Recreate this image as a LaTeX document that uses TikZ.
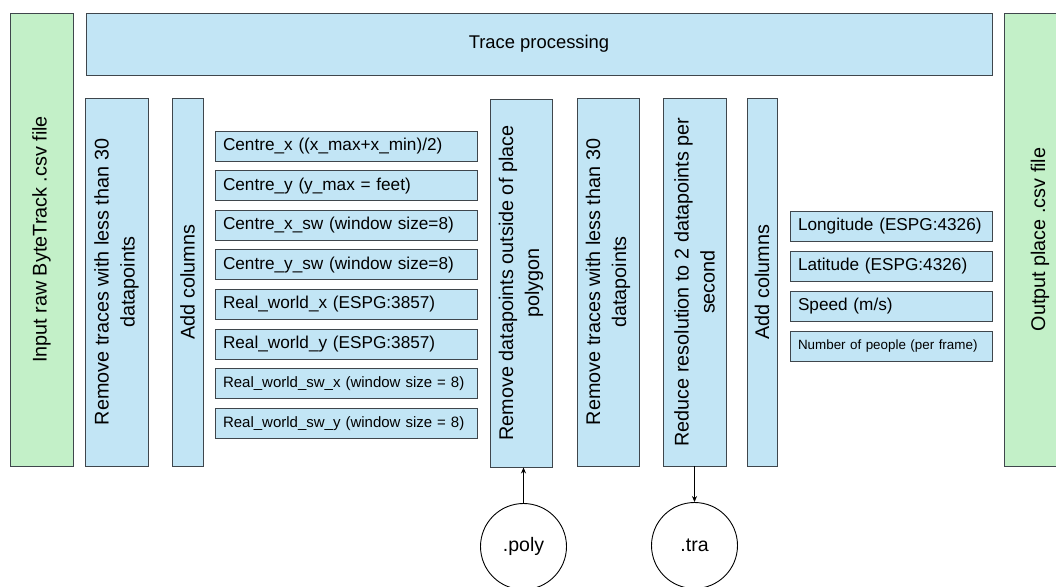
\documentclass[tikz,border=0pt]{standalone}
\usepackage{fontspec}
\setmainfont{Liberation Sans}
\usetikzlibrary{arrows.meta}

\definecolor{procblue}{HTML}{C2E5F5}
\definecolor{iogreen}{HTML}{C3F0C8}
\definecolor{edgegray}{HTML}{3F464C}

\tikzstyle{element}=[rectangle, draw=edgegray, line width=0.9pt,
                     fill=procblue, inner sep=0pt,
                     font=\fontsize{17.2}{21}\selectfont]
\tikzstyle{stage}=[element, rotate=90, align=center, minimum width=368,
                   font=\fontsize{19.8}{26}\selectfont]
\tikzstyle{io}=[stage, fill=iogreen, minimum width=453]
\tikzstyle{field}=[element, align=left, inner xsep=8, minimum height=30]
\tikzstyle{ext}=[circle, draw, line width=0.9pt, minimum size=86,
                 font=\fontsize{19.5}{24}\selectfont]
\tikzstyle{link}=[-{Stealth[length=6pt,width=5pt]}, line width=0.9pt]

\begin{document}
\begin{tikzpicture}[x=1pt, y=-1pt]
\useasboundingbox (0,0) rectangle (1056,586);

%%%%%%%%%%%%%%%%%%%%%%%%%%%%%%
% input / output

\node (in_raw) at (41.5, 239.5) [io, minimum height=63] {Input raw ByteTrack .csv file};
\node (out_csv) at (1040, 239.5) [io, minimum height=72] {Output place .csv file};

\node (trace) at (539, 44) [element, minimum width=906, minimum height=62,
                            font=\fontsize{18.4}{22}\selectfont] {Trace processing};

%%%%%%%%%%%%%%%%%%%%%%%%%%%%%%
% stages

\node (rm_A) at (116.5, 282) [stage, minimum height=63] {Remove traces with less than 30\\datapoints};
\node (add_A) at (187.5, 282) [stage, minimum height=31] {Add columns};
\node (rm_poly) at (521, 283) [stage, minimum height=62] {Remove datapoints outside of place\\polygon};
\node (rm_B) at (608, 282) [stage, minimum height=62] {Remove traces with less than 30\\datapoints};
\node (reduce) at (694.5, 282) [stage, minimum height=63] {Reduce resolution to 2 datapoints per\\second};
\node (add_B) at (762, 282) [stage, minimum height=30] {Add columns};

%%%%%%%%%%%%%%%%%%%%%%%%%%%%%%
% columns

% A
\node (cx_A) at (346, 146) [field, text width=246] {Centre\_x ((x\_max+x\_min)/2)};
\node (cy_A) at (346, 185.6) [field, text width=246] {Centre\_y (y\_max = feet)};
\node (cxsw_A) at (346, 225.2) [field, text width=246] {Centre\_x\_sw (window size=8)};
\node (cysw_A) at (346, 264.8) [field, text width=246] {Centre\_y\_sw (window size=8)};
\node (rwx_A) at (346, 304.4) [field, text width=246] {Real\_world\_x (ESPG:3857)};
\node (rwy_A) at (346, 344) [field, text width=246] {Real\_world\_y (ESPG:3857)};
\node (rwswx_A) at (346, 383.6) [field, text width=246, font=\fontsize{15}{18}\selectfont] {Real\_world\_sw\_x (window size = 8)};
\node (rwswy_A) at (346, 423.2) [field, text width=246, font=\fontsize{15}{18}\selectfont] {Real\_world\_sw\_y (window size = 8)};

% B
\node (lon_B) at (891, 226) [field, text width=186] {Longitude (ESPG:4326)};
\node (lat_B) at (891, 266) [field, text width=186] {Latitude (ESPG:4326)};
\node (spd_B) at (891, 306) [field, text width=186] {Speed (m/s)};
\node (ppl_B) at (891, 346) [field, text width=186, font=\fontsize{13.4}{16}\selectfont] {Number of people (per frame)};

%%%%%%%%%%%%%%%%%%%%%%%%%%%%%%
% files

\node (poly) at (523.5, 546.5) [ext] {.poly};
\node (tra) at (694.5, 545.5) [ext] {.tra};

%%%%%%%%%%%%%%%%%%%%%%%%%%%%%%
% links

\draw [link] (poly.north) to (poly.north |- rm_poly.west);
\draw [link] (reduce.west) to (reduce.west |- tra.north);

\end{tikzpicture}
\end{document}
